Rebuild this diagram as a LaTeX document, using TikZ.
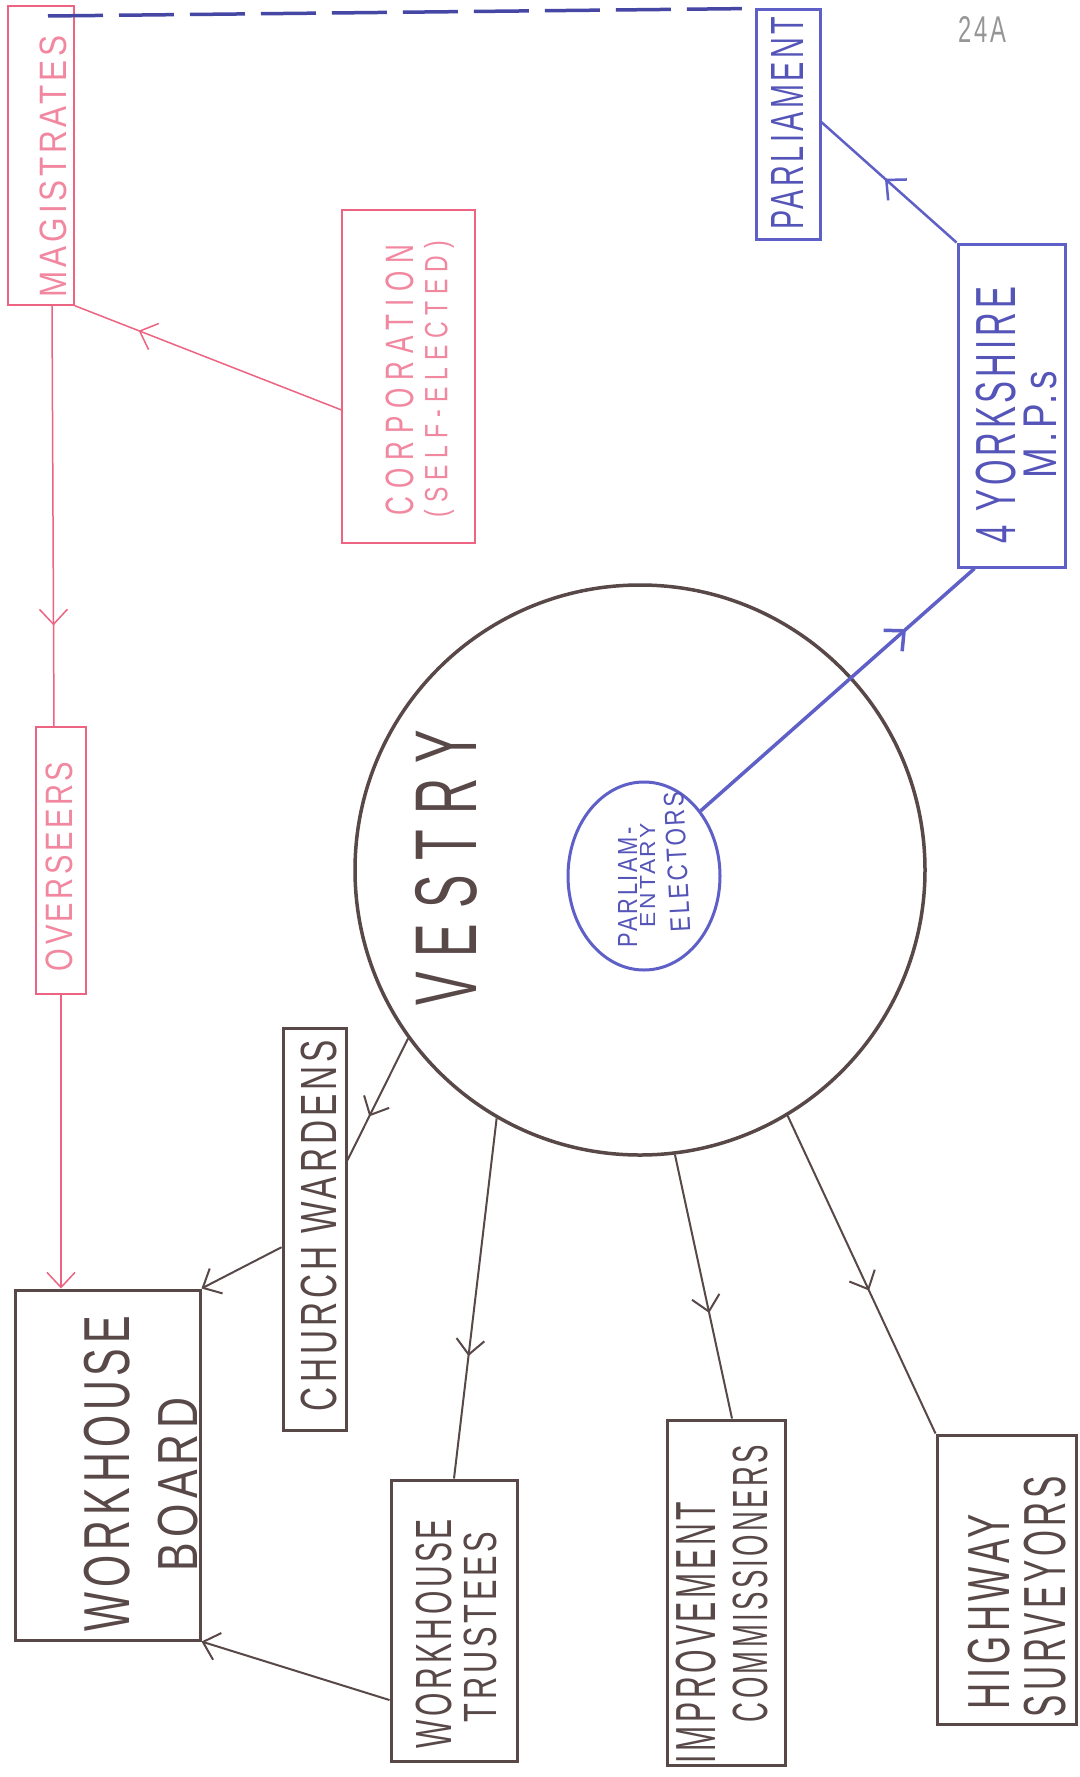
\documentclass[tikz,border=0pt]{standalone}
\usepackage{fontspec}
\setmainfont{Liberation Sans}[LetterSpace=12]
\usepackage{graphicx}
\usetikzlibrary{arrows.meta,decorations.markings,shapes.geometric,calc}
\definecolor{pinkln}{RGB}{236,100,130}
\definecolor{pinktx}{RGB}{242,135,160}
\definecolor{bluln}{RGB}{95,95,200}
\definecolor{blutx}{RGB}{85,85,185}
\definecolor{bludash}{RGB}{70,70,165}
\definecolor{brn}{RGB}{88,72,72}
\definecolor{greytx}{RGB}{150,150,150}
\newcommand{\fitbox}[3]{\resizebox*{#1pt}{#2pt}{#3}}
\newcommand{\spaced}[1]{{\addfontfeature{LetterSpace=30}#1}}
\begin{document}
\begin{tikzpicture}[x=1pt,y=-1pt,
  vtip/.tip={Straight Barb[length=15pt,width=28pt]},
  midarrow/.style={postaction={decorate,decoration={markings,mark=at position #1 with {\arrow{vtip}}}}},
  pinkbox/.style={draw=pinkln,line width=1.3pt,rectangle,inner sep=0pt},
  blubox/.style={draw=bluln,line width=3pt,rectangle,inner sep=0pt},
  brnbox/.style={draw=brn,line width=3pt,rectangle,inner sep=0pt},
  txt/.style={rotate=90,inner sep=0pt},
  pinkcon/.style={draw=pinkln,line width=1.5pt},
  brncon/.style={draw=brn,line width=2pt},
  bludashed/.style={draw=bludash,line width=3.5pt,dash pattern=on 55pt off 16pt}
]
\fill[white] (0,0) rectangle (1079,1777);
\useasboundingbox (0,0) rectangle (1079,1777);

% boxes
\node[pinkbox, minimum width=66pt, minimum height=299pt] (mag) at (41,155.5) {};
\node[blubox, minimum width=64pt, minimum height=229pt] (parl) at (788,124.5) {};
\node[blubox, minimum width=107pt, minimum height=323pt] (york) at (1011.5,405.5) {};
\node[pinkbox, minimum width=133pt, minimum height=333pt] (corp) at (408.5,376.5) {};
\node[pinkbox, minimum width=50pt, minimum height=267pt] (over) at (61,860.5) {};
\node[circle, draw=brn, line width=3.5pt, minimum size=570pt, inner sep=0pt] (vestry) at (640,870) {};
\node[ellipse, draw=bluln, line width=3pt, minimum width=152pt, minimum height=188pt, inner sep=0pt] (elect) at (644,876) {};
\node[brnbox, minimum width=63pt, minimum height=402pt] (cw) at (314.5,1229) {};
\node[brnbox, minimum width=185pt, minimum height=350pt] (wb) at (107.5,1465) {};
\node[brnbox, minimum width=126pt, minimum height=281pt] (wt) at (454,1620.5) {};
\node[brnbox, minimum width=118pt, minimum height=345pt] (ic) at (726,1592.5) {};
\node[brnbox, minimum width=139pt, minimum height=289pt] (hs) at (1006.5,1579.5) {};

% texts
\node[txt, text=pinktx] (tmag) at (53,166.5) {\fitbox{261}{27}{MAGISTRATES}};
\node[txt, text=blutx] (tparl) at (787,123) {\fitbox{213}{32}{PARLIAMENT}};
\node[txt, text=pinktx] (tcorp1) at (399.5,380) {\fitbox{270}{28}{\spaced{CORPORATION}}};
\node[txt, text=pinktx] (tcorp2) at (439,379) {\fitbox{276}{30}{\spaced{(SELF-ELECTED)}}};
\node[txt, text=blutx] (tyork1) at (996,415) {\fitbox{256}{40}{4 YORKSHIRE}};
\node[txt, text=blutx] (tyork2) at (1040,424.5) {\fitbox{107}{33}{M.P.s}};
\node[txt, text=pinktx] (tover) at (59,866.5) {\fitbox{209}{27}{OVERSEERS}};
\node[txt, text=brn] (tvestry) at (446,868) {\fitbox{275}{62}{\spaced{VESTRY}}};
\node[txt, text=blutx] (tel1) at (627.5,887) {\fitbox{120}{19}{PARLIAM-}};
\node[txt, text=blutx] (tel2) at (647.5,875) {\fitbox{104}{15}{ENTARY}};
\node[rotate=93, inner sep=0pt, text=blutx] (tel3) at (677,862) {\fitbox{140}{20}{ELECTORS}};
\node[txt, text=brn] (tcw) at (319,1225.5) {\fitbox{371}{36}{CHURCH WARDENS}};
\node[txt, text=brn] (twb1) at (107,1473.5) {\fitbox{315}{46}{WORKHOUSE}};
\node[txt, text=brn] (twb2) at (178,1484.5) {\fitbox{173}{40}{BOARD}};
\node[txt, text=brn] (twt1) at (434,1633.5) {\fitbox{229}{36}{WORKHOUSE}};
\node[txt, text=brn] (twt2) at (480.5,1627) {\fitbox{190}{33}{TRUSTEES}};
\node[txt, text=brn] (tic1) at (696.5,1632.5) {\fitbox{261}{40}{IMPROVEMENT}};
\node[txt, text=brn] (tic2) at (750.5,1583.5) {\fitbox{277}{35}{COMMISSIONERS}};
\node[txt, text=brn] (ths1) at (989,1611.5) {\fitbox{195}{42}{HIGHWAY}};
\node[txt, text=brn] (ths2) at (1045.5,1596.5) {\fitbox{241}{42}{SURVEYORS}};
\node[inner sep=0pt, text=greytx] (tpage) at (982,30) {\fitbox{48}{26}{24A}};

% connectors
\coordinate (dashA) at (48,16);
\draw[bludashed] (dashA) -- (parl.north west);
\draw[draw=bluln, line width=2.5pt, midarrow=0.53] (york.north west) -- ($(parl.north east)!0.49!(parl.south east)$);
\draw[pinkcon, midarrow=0.76] ($(corp.north west)!0.6!(corp.south west)$) -- (mag.south east);
\draw[pinkcon, midarrow=0.76] ($(mag.south)+(11,0)$) -- ($(over.north)+(-7,0)$);
\draw[pinkcon, -{vtip}] (over.south) -- (over.south |- wb.north);
\draw[brncon, midarrow=0.64] (vestry.216) -- ($(cw.north east)!0.33!(cw.south east)$);
\draw[brncon, -{vtip}] ($(cw.north west)!0.545!(cw.south west)$) -- (wb.north east);
\draw[brncon, midarrow=0.66] (vestry.240) -- (wt.north);
\draw[brncon, -{vtip}] ($(wt.north west)!0.78!(wt.south west)$) -- (wb.south east);
\draw[brncon, midarrow=0.6] (vestry.277) -- ($(ic.north)+(6,0)$);
\draw[brncon, midarrow=0.55] (vestry.301) -- (hs.north west);
\draw[draw=bluln, line width=3.5pt, midarrow=0.75] (elect.49) -- ($(york.south west)+(18,0)$);
\end{tikzpicture}
\end{document}
